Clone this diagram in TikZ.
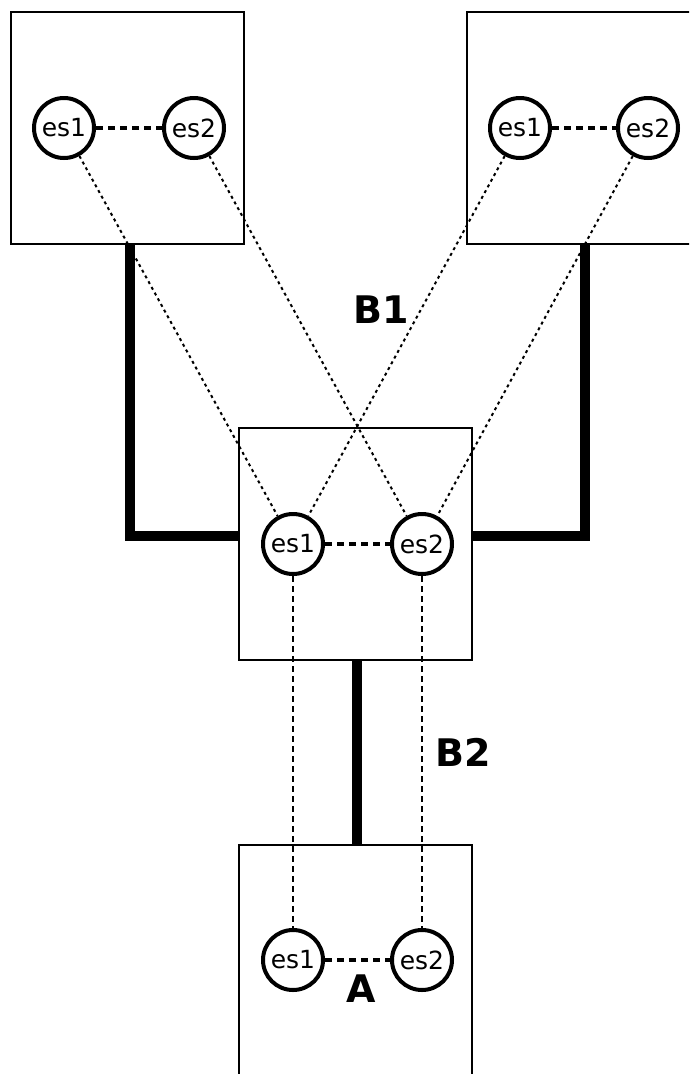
\documentclass[tikz,border=0pt]{standalone}
\usepackage{fontspec}
\setmainfont{DejaVu Sans}
\usetikzlibrary{calc}
\begin{document}
\begin{tikzpicture}[x=1pt,y=-1pt,
  box/.style={draw, line width=1.5pt, minimum width=233pt, minimum height=232pt, inner sep=0pt, anchor=north west},
  es/.style={circle, draw, line width=4pt, minimum size=60pt, inner sep=0pt, fill=white, font=\fontsize{25}{25}\selectfont},
  link/.style={line width=3.5pt, dash pattern=on 7pt off 5pt},
  diag/.style={line width=2pt, dash pattern=on 3pt off 3.5pt},
  vert/.style={line width=1.5pt, dash pattern=on 6pt off 4pt},
  trunk/.style={line width=10pt},
  lbl/.style={font=\fontsize{38}{38}\selectfont\bfseries}]
\useasboundingbox (0,0) rectangle (689,1074);
\clip (0,0) rectangle (689,1074);
% boxes
\node[box] (TL) at (10,11) {};
\node[box] (TR) at (466,11) {};
\node[box] (M) at (238,427) {};
\node[box, minimum height=250pt] (A) at (238,844) {};
% trunks
\draw[trunk] ($(TL.south west)+(120,0)$) |- ($(M.north west)+(0,109)$);
\draw[trunk] ($(TR.south west)+(119,0)$) |- ($(M.north east)+(0,109)$);
\draw[trunk] ($(M.south west)+(119,0)$) -- ($(A.north west)+(119,0)$);
% circles
\node[es] (tl1) at ($(TL.north west)+(54,117)$) {es1};
\node[es] (tl2) at ($(TL.north west)+(184,117)$) {es2};
\node[es] (tr1) at ($(TR.north west)+(54,117)$) {es1};
\node[es] (tr2) at ($(TR.north west)+(182,117)$) {es2};
\node[es] (m1) at ($(M.north west)+(55,117)$) {es1};
\node[es] (m2) at ($(M.north west)+(184,117)$) {es2};
\node[es] (a1) at ($(A.north west)+(55,116)$) {es1};
\node[es] (a2) at ($(A.north west)+(184,116)$) {es2};
% links
\draw[link] (tl1) -- (tl2);
\draw[link] (tr1) -- (tr2);
\draw[link] (m1) -- (m2);
\draw[link] (a1) -- (a2);
\draw[diag] (tl1) -- (m1);
\draw[diag] (tl2) -- (m2);
\draw[diag] (tr1) -- (m1);
\draw[diag] (tr2) -- (m2);
\draw[vert] (m1) -- (a1);
\draw[vert] (m2) -- (a2);
% labels
\node[lbl] (B1) at (381,310) {B1};
\node[lbl] (B2) at (463,752) {B2};
\node[lbl] (LA) at (361,989) {A};
\end{tikzpicture}
\end{document}
